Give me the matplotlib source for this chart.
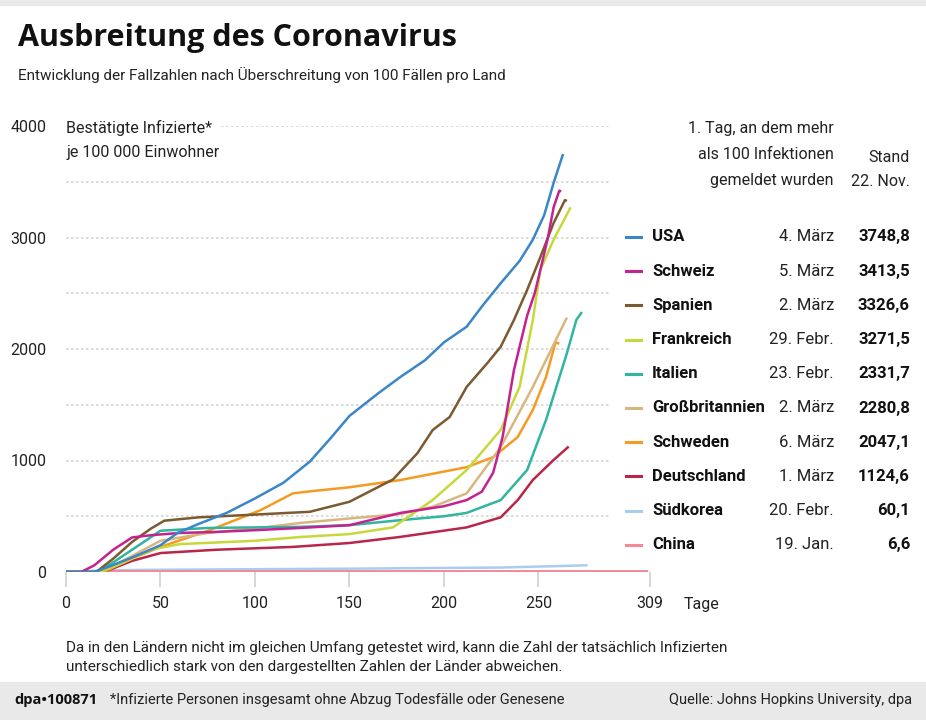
import matplotlib
matplotlib.use("Agg")
import matplotlib.pyplot as plt
from matplotlib import font_manager

# condensed font if available
names_installed = {f.name for f in font_manager.fontManager.ttflist}
COND = "Liberation Sans Narrow" if "Liberation Sans Narrow" in names_installed else "Roboto"
BOLD = "Open Sans"

# data: days since 100 cases, confirmed cases per 100 000 inhabitants
countries = ["USA", "Schweiz", "Spanien", "Frankreich", "Italien",
             "Großbritannien", "Schweden", "Deutschland", "Südkorea", "China"]
first_day = ["4. März", "5. März", "2. März", "29. Febr.", "23. Febr.",
             "2. März", "6. März", "1. März", "20. Febr.", "19. Jan."]
latest = ["3748,8", "3413,5", "3326,6", "3271,5", "2331,7",
          "2280,8", "2047,1", "1124,6", "60,1", "6,6"]
colors = ["#3a86c8", "#c4238f", "#7b5a30", "#c7d83a", "#2fb5a0",
          "#d8b77f", "#f59a23", "#b8264a", "#a9cdee", "#f28a9a"]

usa_d = [0, 15, 20, 35, 50, 59, 70, 85, 100, 115, 129, 140, 150, 165, 177, 190, 200, 212, 220, 230, 240, 247, 253, 258, 263]
usa_v = [0, 0, 30, 130, 240, 350, 430, 530, 660, 800, 990, 1200, 1400, 1600, 1750, 1900, 2060, 2200, 2380, 2590, 2790, 2980, 3200, 3490, 3749]
sui_d = [0, 8, 15, 25, 35, 45, 60, 80, 100, 124, 150, 177, 200, 212, 220, 226, 231, 237, 244, 248, 251, 255, 258, 261, 262]
sui_v = [0, 0, 60, 200, 310, 330, 350, 360, 375, 395, 420, 530, 590, 645, 720, 890, 1210, 1810, 2300, 2500, 2710, 3000, 3270, 3420, 3413]
esp_d = [0, 16, 25, 35, 45, 52, 70, 100, 129, 150, 173, 186, 194, 203, 212, 223, 230, 237, 244, 251, 258, 264, 265]
esp_v = [0, 0, 120, 270, 390, 460, 490, 515, 540, 630, 830, 1067, 1273, 1390, 1660, 1875, 2020, 2260, 2530, 2825, 3130, 3336, 3327]
fra_d = [0, 18, 30, 45, 60, 80, 100, 124, 150, 173, 194, 212, 230, 240, 247, 251, 258, 267]
fra_v = [0, 0, 80, 200, 250, 265, 280, 314, 340, 400, 645, 915, 1275, 1660, 2260, 2710, 2980, 3271]
ita_d = [0, 15, 20, 35, 50, 75, 100, 124, 150, 177, 200, 212, 230, 244, 254, 265, 270, 273]
ita_v = [0, 0, 30, 200, 370, 395, 400, 405, 420, 465, 500, 530, 645, 915, 1365, 1960, 2260, 2332]
gbr_d = [0, 18, 30, 50, 75, 100, 124, 150, 177, 194, 212, 230, 247, 265]
gbr_v = [0, 0, 100, 280, 350, 390, 440, 480, 520, 585, 705, 1120, 1660, 2281]
swe_d = [0, 20, 32, 50, 76, 103, 120, 130, 150, 177, 212, 226, 239, 247, 254, 259, 261]
swe_v = [0, 0, 100, 225, 375, 555, 705, 725, 760, 825, 940, 1030, 1210, 1453, 1750, 2060, 2047]
ger_d = [0, 20, 35, 50, 80, 120, 150, 177, 212, 230, 239, 247, 258, 266]
ger_v = [0, 0, 100, 170, 200, 225, 260, 315, 400, 490, 645, 825, 1005, 1125]
kor_d = [0, 20, 50, 150, 230, 276]
kor_v = [0, 15, 20, 30, 40, 60]
chn_d = [0, 30, 308]
chn_v = [0, 6, 6.6]

series = [(usa_d, usa_v), (sui_d, sui_v), (esp_d, esp_v), (fra_d, fra_v),
          (ita_d, ita_v), (gbr_d, gbr_v), (swe_d, swe_v), (ger_d, ger_v),
          (kor_d, kor_v), (chn_d, chn_v)]

W, H = 926, 720
fig = plt.figure(figsize=(W / 100, H / 100), dpi=100)


def fx(x):
    return x / W


def fy(y):
    return 1 - y / H


# footer band
fig.patches.append(plt.Rectangle((0, 0), 1, fy(682), transform=fig.transFigure,
                                  color="#e9e9e9", zorder=0))
fig.patches.append(plt.Rectangle((0, fy(5)), 1, 5 / H, transform=fig.transFigure,
                                  color="#e9e9e9", zorder=0))

ax = fig.add_axes([fx(66), fy(572), fx(650) - fx(66), fy(126) - fy(572)])
ax.set_xlim(0, 309)
ax.set_ylim(0, 4000)
for s in ax.spines.values():
    s.set_visible(False)

# dotted grid
for v in range(500, 4001, 500):
    x0 = 82 if v == 4000 else 0
    ax.plot([x0, 288], [v, v], color="#d4d4d4", lw=1.2, ls=(0, (1.5, 1.5)), zorder=1)

# plot lines, Korea and China at the bottom
order = [8, 9, 7, 6, 5, 4, 3, 2, 1, 0]
for i in order:
    d, v = series[i]
    ax.plot(d, v, color=colors[i], lw=1.8, zorder=3, solid_capstyle="butt")

ax.set_yticks([0, 1000, 2000, 3000, 4000])
ax.set_yticklabels(["0", "1000", "2000", "3000", "4000"], family=COND, fontsize=11.5, color="#222222")
ax.tick_params(axis="y", length=0, pad=14)
ax.set_xticks([0, 50, 100, 150, 200, 250, 309])
ax.set_xticklabels(["0", "50", "100", "150", "200", "250", "309"], family=COND, fontsize=11.5, color="#222222")
ax.tick_params(axis="x", length=11, width=1.2, color="#d0d0d0", pad=6)

fig.text(fx(684), fy(604), "Tage", family=COND, fontsize=11.5, va="center", color="#222222")
fig.text(fx(66), fy(128), "Bestätigte Infizierte*", family=COND, fontsize=11.5, va="center", color="#222222")
fig.text(fx(66), fy(152), "je 100 000 Einwohner", family=COND, fontsize=11.5, va="center", color="#222222")

# titles
fig.text(fx(18), fy(38), "Ausbreitung des Coronavirus", family=BOLD, fontweight="bold",
         fontsize=22, va="center", color="#111111")
fig.text(fx(18), fy(75), "Entwicklung der Fallzahlen nach Überschreitung von 100 Fällen pro Land",
         family=COND, fontsize=11, va="center", color="#222222")

# legend table
for j, t in enumerate(["1. Tag, an dem mehr", "als 100 Infektionen", "gemeldet wurden"]):
    fig.text(fx(834), fy(128 + j * 26.5), t, family=COND, fontsize=11.5, ha="right", va="center", color="#222222")
fig.text(fx(910), fy(158), "Stand", family=COND, fontsize=11.5, ha="right", va="center", color="#222222")
fig.text(fx(910), fy(182), "22. Nov.", family=COND, fontsize=11.5, ha="right", va="center", color="#222222")

for i, name in enumerate(countries):
    y = 237 + i * 34.2
    fig.add_artist(plt.Line2D([fx(626), fx(641)], [fy(y), fy(y)], color=colors[i], lw=2.2))
    fig.text(fx(652), fy(y), name, family=COND, fontweight="bold", fontsize=12, va="center", color="#111111")
    fig.text(fx(834), fy(y), first_day[i], family=COND, fontsize=12, ha="right", va="center", color="#222222")
    fig.text(fx(910), fy(y), latest[i], family=COND, fontweight="bold", fontsize=12, ha="right", va="center", color="#111111")

# notes
fig.text(fx(66), fy(648), "Da in den Ländern nicht im gleichen Umfang getestet wird, kann die Zahl der tatsächlich Infizierten",
         family=COND, fontsize=11, va="center", color="#222222")
fig.text(fx(66), fy(667), "unterschiedlich stark von den dargestellten Zahlen der Länder abweichen.",
         family=COND, fontsize=11, va="center", color="#222222")

fig.text(fx(14), fy(700), "dpa\u2022100871", family=BOLD, fontweight="bold", fontsize=10.5, va="center", color="#111111")
fig.text(fx(110), fy(700), "*Infizierte Personen insgesamt ohne Abzug Todesfälle oder Genesene",
         family=COND, fontsize=10.5, va="center", color="#222222")
fig.text(fx(912), fy(700), "Quelle: Johns Hopkins University, dpa",
         family=COND, fontsize=10.5, ha="right", va="center", color="#222222")

fig.savefig("out.png", dpi=100)
